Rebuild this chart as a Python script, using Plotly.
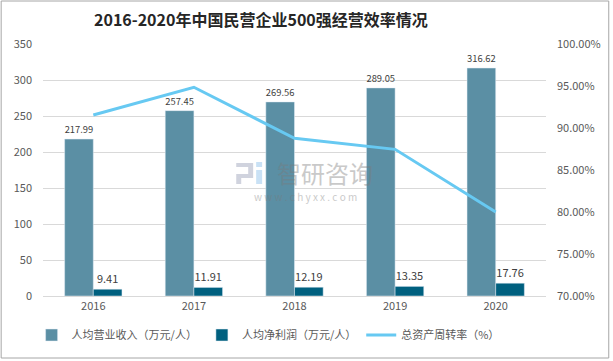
import plotly.graph_objects as go

years = ["2016", "2017", "2018", "2019", "2020"]
revenue = [217.99, 257.45, 269.56, 289.05, 316.62]
profit = [9.41, 11.91, 12.19, 13.35, 17.76]
turnover = [0.9155, 0.9485, 0.8877, 0.8746, 0.8000]

names = ["人均营业收入（万元/人）", "人均净利润（万元/人）", "总资产周转率（%）"]
title_text = "2016-2020年中国民营企业500强经营效率情况"

W, H = 613, 361
L, R, T, B = 43, 548, 44, 296


def px(x):
    return (x - L) / (R - L)


def py(y):
    return (B - y) / (B - T)


fig = go.Figure()
fig.add_trace(go.Bar(
    x=years, y=revenue, name=names[0], marker_color="#5b8fa4",
    text=[f"{v:.2f}" for v in revenue], textposition="outside",
    textfont=dict(size=11, color="#404040"), cliponaxis=False,
))
fig.add_trace(go.Bar(
    x=years, y=profit, name=names[1], marker_color="#00607f",
    text=[f"{v:.2f}" for v in profit], textposition="outside",
    textfont=dict(size=11, color="#404040"), cliponaxis=False,
))
fig.add_trace(go.Scatter(
    x=years, y=turnover, name=names[2], yaxis="y2", mode="lines",
    line=dict(color="#67c9f2", width=3),
))

wm_shapes = [
    # watermark logo blocks
    dict(type="rect", xref="paper", yref="paper", x0=px(237), x1=px(254), y0=py(163), y1=py(167),
         fillcolor="rgba(120,130,160,0.35)", line=dict(width=0), layer="above"),
    dict(type="rect", xref="paper", yref="paper", x0=px(249), x1=px(254), y0=py(167), y1=py(174),
         fillcolor="rgba(120,130,160,0.35)", line=dict(width=0), layer="above"),
    dict(type="rect", xref="paper", yref="paper", x0=px(237), x1=px(254), y0=py(174), y1=py(178),
         fillcolor="rgba(120,130,160,0.35)", line=dict(width=0), layer="above"),
    dict(type="rect", xref="paper", yref="paper", x0=px(237), x1=px(242), y0=py(178), y1=py(184),
         fillcolor="rgba(120,130,160,0.35)", line=dict(width=0), layer="above"),
    dict(type="rect", xref="paper", yref="paper", x0=px(257), x1=px(263), y0=py(170), y1=py(184),
         fillcolor="rgba(120,180,230,0.4)", line=dict(width=0), layer="above"),
    dict(type="rect", xref="paper", yref="paper", x0=px(257), x1=px(263), y0=py(162), y1=py(167),
         fillcolor="rgba(120,180,230,0.4)", line=dict(width=0), layer="above"),
]

fig.update_layout(
    width=W, height=H,
    margin=dict(l=L, r=W - R, t=T, b=H - B, pad=0),
    paper_bgcolor="white", plot_bgcolor="white",
    font=dict(family="Noto Sans CJK SC, sans-serif", color="#595959"),
    barmode="group", bargap=0.43, bargroupgap=0,
    showlegend=True,
    legend=dict(orientation="h", x=px(269), xanchor="center", y=py(335), yanchor="middle",
                font=dict(size=11, color="#595959"), bgcolor="rgba(0,0,0,0)"),
    xaxis=dict(showgrid=False, showline=True, linecolor="#d9d9d9", ticks="",
               tickfont=dict(size=11, color="#595959")),
    yaxis=dict(range=[0, 350], dtick=50, showgrid=True, gridcolor="#d9d9d9",
               zeroline=False, showline=False, ticks="",
               tickfont=dict(size=11, color="#595959"), ticklabelstandoff=10),
    yaxis2=dict(range=[0.70, 1.00], dtick=0.05, tickformat=".2%", overlaying="y",
                side="right", showgrid=False, zeroline=False, showline=False,
                tickfont=dict(size=11, color="#595959"), ticklabelstandoff=10),
    annotations=[
        dict(text="<b>" + title_text + "</b>", xref="paper", yref="paper",
             x=px(262), y=py(19), xanchor="center", yanchor="middle", showarrow=False,
             font=dict(size=16, color="#262626", family="Noto Sans CJK SC, sans-serif")),
        dict(text="智研咨询", xref="paper", yref="paper", x=px(326), y=py(172),
             xanchor="center", yanchor="middle", showarrow=False, opacity=0.4,
             font=dict(size=24, color="#7a7a7a")),
        dict(text="w w w . c h y x x . c o m", xref="paper", yref="paper", x=px(307), y=py(196),
             xanchor="center", yanchor="middle", showarrow=False, opacity=0.4,
             font=dict(size=10, color="#7a7a7a")),
    ],
    shapes=[
        dict(type="rect", xref="paper", yref="paper", x0=px(1), x1=px(611), y0=py(1), y1=py(358),
             line=dict(color="#a6a6a6", width=1), fillcolor="rgba(0,0,0,0)", layer="below"),
    ] + wm_shapes,
)

fig.write_html("out.html", config={"displayModeBar": False},
               post_script="document.body.style.margin='0';document.body.style.overflow='hidden';")
